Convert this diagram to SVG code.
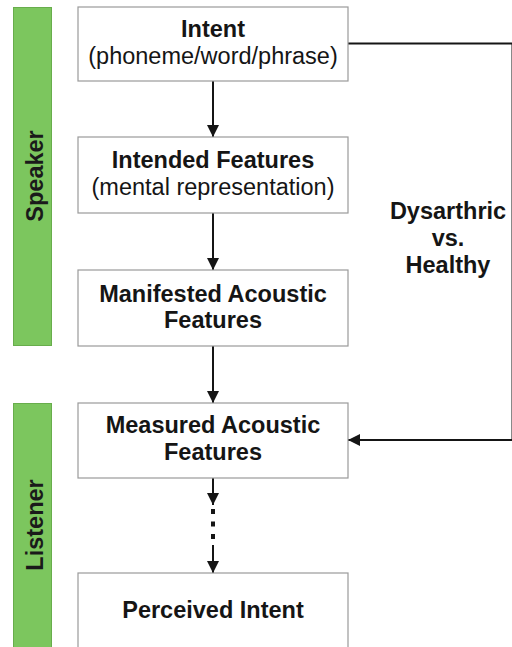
<svg xmlns="http://www.w3.org/2000/svg" width="512" height="647" viewBox="0 0 512 647">
<style>
.bar{fill:#7cc65e;stroke:#68ad4c;stroke-width:1}
.box{fill:#ffffff;stroke:#9a9a9a;stroke-width:1.2}
.t{font-family:"Liberation Sans",Arial,sans-serif;font-size:23.5px;fill:#151515;text-anchor:middle}
.b{font-weight:bold}
.lane{font-family:"Liberation Sans",Arial,sans-serif;font-size:23.5px;font-weight:bold;fill:#1a1a1a;text-anchor:middle}
.c{fill:none;stroke:#151515;stroke-width:2}
</style>
<defs>
<marker id="ah" markerUnits="userSpaceOnUse" markerWidth="13" markerHeight="12" refX="12" refY="6" orient="auto">
<path d="M0,0 L12,6 L0,12 z" fill="#151515"/>
</marker>
</defs>
<rect width="512" height="647" fill="#ffffff"/>
<g id="lane-speaker">
<rect class="bar" x="13.5" y="7.5" width="38" height="338"/>
<text class="lane" transform="translate(43,176) rotate(-90)">Speaker</text>
</g>
<g id="lane-listener">
<rect class="bar" x="13.5" y="403.5" width="38" height="260"/>
<text class="lane" transform="translate(43,525) rotate(-90)">Listener</text>
</g>
<g id="connectors">
<path class="c" d="M213,81 V137" marker-end="url(#ah)"/>
<path class="c" d="M213,213 V270" marker-end="url(#ah)"/>
<path class="c" d="M213,346 V403" marker-end="url(#ah)"/>
<path class="c" d="M213,478 V505" marker-end="url(#ah)"/>
<path d="M213,509 V541" fill="none" stroke="#151515" stroke-width="4" stroke-dasharray="5 7.5"/>
<path class="c" d="M213,545 V573" marker-end="url(#ah)"/>
<path class="c" d="M348,43.5 H512.5 V440 H348" marker-end="url(#ah)"/>
</g>
<g id="intent">
<rect class="box" x="78" y="7" width="270" height="74"/>
<text class="t b" x="213" y="37">Intent</text>
<text class="t" x="213" y="64">(phoneme/word/phrase)</text>
</g>
<g id="intended-features">
<rect class="box" x="78" y="137" width="270" height="76"/>
<text class="t b" x="213" y="168">Intended Features</text>
<text class="t" x="213" y="195">(mental representation)</text>
</g>
<g id="manifested">
<rect class="box" x="78" y="270" width="270" height="76"/>
<text class="t b" x="213" y="302">Manifested Acoustic</text>
<text class="t b" x="213" y="328">Features</text>
</g>
<g id="measured">
<rect class="box" x="78" y="403" width="270" height="75"/>
<text class="t b" x="213" y="433">Measured Acoustic</text>
<text class="t b" x="213" y="460">Features</text>
</g>
<g id="perceived">
<rect class="box" x="78" y="573" width="270" height="90"/>
<text class="t b" x="213" y="618">Perceived Intent</text>
</g>
<g id="label-dysarthric">
<text class="t b" x="448" y="219">Dysarthric</text>
<text class="t b" x="448" y="246">vs.</text>
<text class="t b" x="448" y="273">Healthy</text>
</g>
</svg>
